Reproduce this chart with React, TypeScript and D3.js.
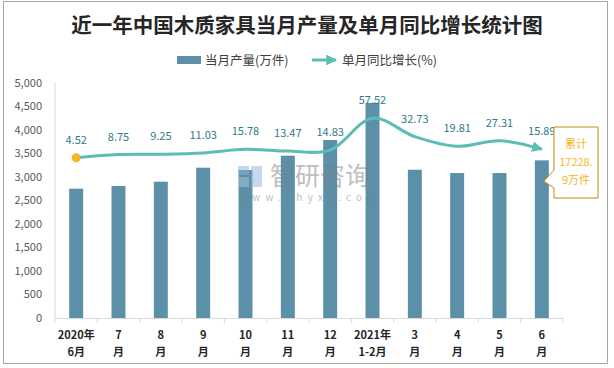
import React from "react";
import * as d3 from "d3";

const categories = [
  ["2020年", "6月"],
  ["7", "月"],
  ["8", "月"],
  ["9", "月"],
  ["10", "月"],
  ["11", "月"],
  ["12", "月"],
  ["2021年", "1-2月"],
  ["3", "月"],
  ["4", "月"],
  ["5", "月"],
  ["6", "月"],
];
const production = [2748, 2805, 2896, 3194, 3145, 3449, 3783, 4570, 3150, 3080, 3080, 3350];
const growth = [4.52, 8.75, 9.25, 11.03, 15.78, 13.47, 14.83, 57.52, 32.73, 19.81, 27.31, 15.89];
const yTicks = [0, 500, 1000, 1500, 2000, 2500, 3000, 3500, 4000, 4500, 5000];

const W = 614;
const H = 368;
const plot = { left: 55, right: 563, top: 82.7, bottom: 318 };
const font = "'Noto Sans CJK SC', 'Noto Sans', sans-serif";

const App = () => {
  const idx = categories.map((_, i) => String(i));
  const x = d3
    .scaleBand()
    .domain(idx)
    .range([plot.left, plot.right])
    .paddingInner(0.67)
    .paddingOuter(0.335);
  const xc = (i: number) => (x(String(i)) as number) + x.bandwidth() / 2;
  const y = d3.scaleLinear().domain([0, 5000]).range([plot.bottom, plot.top]);
  // hidden secondary axis for the growth rate
  const y2 = d3.scaleLinear().domain([-210, 105]).range([plot.bottom, plot.top]);
  const step = x.step();

  const line = d3
    .line<number>()
    .x((_, i) => xc(i))
    .y((d) => y2(d))
    .curve(d3.curveCatmullRom.alpha(0.5));

  const lastX = xc(growth.length - 1);
  const lastY = y2(growth[growth.length - 1]);

  return (
    <svg
      width={W}
      height={H}
      style={{ position: "absolute", left: 0, top: 0, background: "#fff" }}
      fontFamily={font}
    >
      <defs>
        <marker
          id="arr"
          viewBox="0 0 10 10"
          refX="9"
          refY="5"
          markerWidth="3.6"
          markerHeight="3.6"
          orient="auto"
        >
          <path d="M0,0 L10,5 L0,10 z" fill="#5cbdb5" />
        </marker>
      </defs>
      <rect x={3.5} y={1.5} width={604} height={362} fill="#fff" stroke="#a6a6a6" />

      <text x={307} y={33} textAnchor="middle" fontSize={20.5} fontWeight="bold" fill="#262626">
        近一年中国木质家具当月产量及单月同比增长统计图
      </text>

      {/* legend */}
      <rect x={177} y={56} width={24} height={8} fill="#5b90a8" />
      <text x={205} y={64.5} fontSize={12.5} fill="#404040">当月产量(万件)</text>
      <line x1={312} y1={60} x2={336} y2={60} stroke="#5cbdb5" strokeWidth={3} markerEnd="url(#arr)" />
      <text x={342} y={64.5} fontSize={12.5} fill="#404040">单月同比增长(%)</text>

      {/* y axis */}
      <line x1={plot.left} y1={plot.top} x2={plot.left} y2={plot.bottom} stroke="#d9d9d9" />
      {yTicks.map((t) => (
        <text key={t} x={42} y={y(t) + 4} textAnchor="end" fontSize={11} fill="#595959">
          {d3.format(",")(t)}
        </text>
      ))}

      {/* x axis */}
      <line x1={plot.left} y1={plot.bottom + 0.5} x2={plot.right} y2={plot.bottom + 0.5} stroke="#d9d9d9" />
      {d3.range(categories.length + 1).map((i) => (
        <line
          key={i}
          x1={plot.left + i * step}
          x2={plot.left + i * step}
          y1={plot.bottom}
          y2={plot.bottom + 5}
          stroke="#d9d9d9"
        />
      ))}
      {categories.map((c, i) => (
        <text key={i} textAnchor="middle" fontSize={11} fontWeight="bold" fill="#262626">
          <tspan x={xc(i)} y={339}>{c[0]}</tspan>
          <tspan x={xc(i)} y={356}>{c[1]}</tspan>
        </text>
      ))}

      {/* bars */}
      {production.map((v, i) => (
        <rect
          key={i}
          x={x(String(i))}
          y={y(v)}
          width={x.bandwidth()}
          height={plot.bottom - y(v)}
          fill="#5b90a8"
        />
      ))}

      {/* watermark */}
      <g opacity={0.5}>
        <rect x={238} y={166} width={11} height={9} fill="#8fb3d9" />
        <rect x={251} y={166} width={11} height={21} fill="#8fb3d9" />
        <rect x={238} y={177} width={11} height={10} fill="#b0c7e0" />
        <text x={270} y={185} fontSize={25} fill="#7f7f7f">智研咨询</text>
        <text x={239} y={201} fontSize={10} fill="#7f7f7f" letterSpacing={5.2}>www.chyxx.com</text>
      </g>

      {/* growth line */}
      <path
        d={line(growth) || ""}
        fill="none"
        stroke="#5cbdb5"
        strokeWidth={3}
        markerEnd="url(#arr)"
      />
      <circle cx={xc(0)} cy={y2(growth[0])} r={4.5} fill="#f5b625" />
      {growth.map((g, i) => (
        <text key={i} x={xc(i)} y={y2(g) - 14} textAnchor="middle" fontSize={11} fill="#2e7b8a">
          {g.toFixed(2)}
        </text>
      ))}

      {/* callout */}
      <path
        d={`M554,127 L598,127 L598,198 L554,198 L554,188 L${lastX + 2},${lastY + 32} L554,170 Z`}
        fill="#fff"
        stroke="#bf9000"
      />
      <text textAnchor="middle" fontSize={11} fill="#f5b625">
        <tspan x={576} y={148}>累计</tspan>
        <tspan x={576} y={166}>17228.</tspan>
        <tspan x={576} y={184}>9万件</tspan>
      </text>
    </svg>
  );
};

export default App;
